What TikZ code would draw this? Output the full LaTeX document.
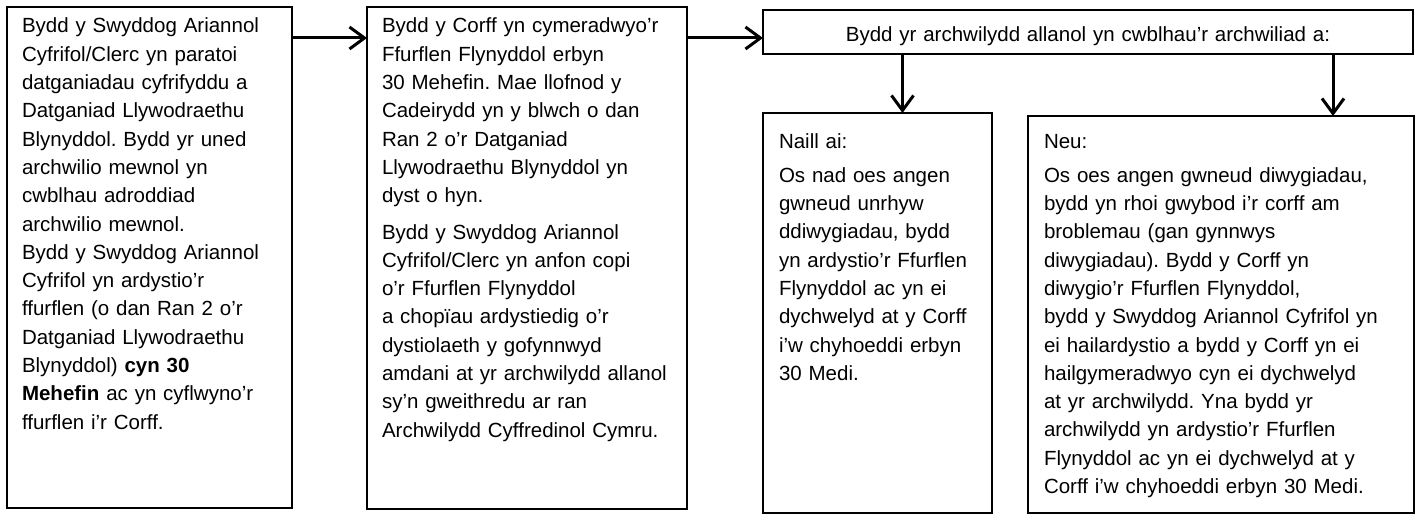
\documentclass[tikz,border=0pt]{standalone}
\usepackage{fontspec}
\setmainfont{Liberation Sans}
\usetikzlibrary{positioning,arrows.meta}

\tikzset{
  stage/.style={draw,rectangle,line width=2.5pt,outer sep=0pt,align=left,inner xsep=15pt,inner ysep=0pt,
    text height=26pt,font=\fontsize{20.5pt}{28.3pt}\selectfont\frenchspacing},
  arr/.style={line width=3pt,-{Straight Barb[length=15pt,width=22pt]}}
}

\begin{document}
\begin{tikzpicture}
    \useasboundingbox (0,0) rectangle (1421pt,-516pt);

    \node[stage,text width=255pt,text depth=475pt,anchor=north west] (clerk) at (7pt,-7pt)
      {Bydd y Swyddog Ariannol\\ Cyfrifol/Clerc yn paratoi\\ datganiadau cyfrifyddu a\\
       Datganiad Llywodraethu\\ Blynyddol. Bydd yr uned\\ archwilio mewnol yn\\
       cwblhau adroddiad\\ archwilio mewnol.\\ Bydd y Swyddog Ariannol\\
       Cyfrifol yn ardystio’r\\ ffurflen (o dan Ran 2 o’r\\ Datganiad Llywodraethu\\
       Blynyddol) \textbf{cyn 30}\\ \textbf{Mehefin} ac yn cyflwyno’r\\ ffurflen i’r Corff.};
    \node[stage,text width=290pt,text depth=476pt,right=75pt of clerk.north east,anchor=north west] (body)
      {Bydd y Corff yn cymeradwyo’r\\ Ffurflen Flynyddol erbyn\\ 30 Mehefin. Mae llofnod y\\
       Cadeirydd yn y blwch o dan\\ Ran 2 o’r Datganiad\\ Llywodraethu Blynyddol yn\\
       dyst o hyn.\\[8pt]
       Bydd y Swyddog Ariannol\\ Cyfrifol/Clerc yn anfon copi\\ o’r Ffurflen Flynyddol\\
       a chopïau ardystiedig o’r\\ dystiolaeth y gofynnwyd\\ amdani at yr archwilydd allanol\\
       sy’n gweithredu ar ran\\ Archwilydd Cyffredinol Cymru.};
    \node[stage,align=center,text width=650pt,inner xsep=0pt,text height=32pt,text depth=12pt,
      right=76pt of body.north east,anchor=north west,yshift=-3pt] (audit)
      {Bydd yr archwilydd allanol yn cwblhau’r archwiliad a:};
    \node[stage,text width=197pt,inner xsep=16pt,text height=35pt,text depth=365pt,
      below=59pt of audit.south west,anchor=north west] (naill)
      {Naill ai:\\[6pt] Os nad oes angen\\ gwneud unrhyw\\ ddiwygiadau, bydd\\
       yn ardystio’r Ffurflen\\ Flynyddol ac yn ei\\ dychwelyd at y Corff\\
       i’w chyhoeddi erbyn\\ 30 Medi.};
    \node[stage,text width=354pt,inner xsep=16pt,text height=32pt,text depth=365pt,
      right=36pt of naill.north east,anchor=north west,yshift=-3pt] (neu)
      {Neu:\\[6pt] Os oes angen gwneud diwygiadau,\\ bydd yn rhoi gwybod i’r corff am\\
       broblemau (gan gynnwys\\ diwygiadau). Bydd y Corff yn\\ diwygio’r Ffurflen Flynyddol,\\
       bydd y Swyddog Ariannol Cyfrifol yn\\ ei hailardystio a bydd y Corff yn ei\\
       hailgymeradwyo cyn ei dychwelyd\\ at yr archwilydd. Yna bydd yr\\
       archwilydd yn ardystio’r Ffurflen\\ Flynyddol ac yn ei dychwelyd at y\\
       Corff i’w chyhoeddi erbyn 30 Medi.};

    % arrows
    \coordinate (row) at ([yshift=-6pt]audit.west);
    \coordinate (inA) at ([xshift=25pt]naill.north);
    \coordinate (inB) at ([xshift=112pt]neu.north);
    \draw[arr] (clerk.east |- row) -- (body.west |- row);
    \draw[arr] (body.east |- row) -- (row);
    \draw[arr] (audit.south -| inA) -- (inA);
    \draw[arr] (audit.south -| inB) -- (inB);

\end{tikzpicture}
\end{document}
